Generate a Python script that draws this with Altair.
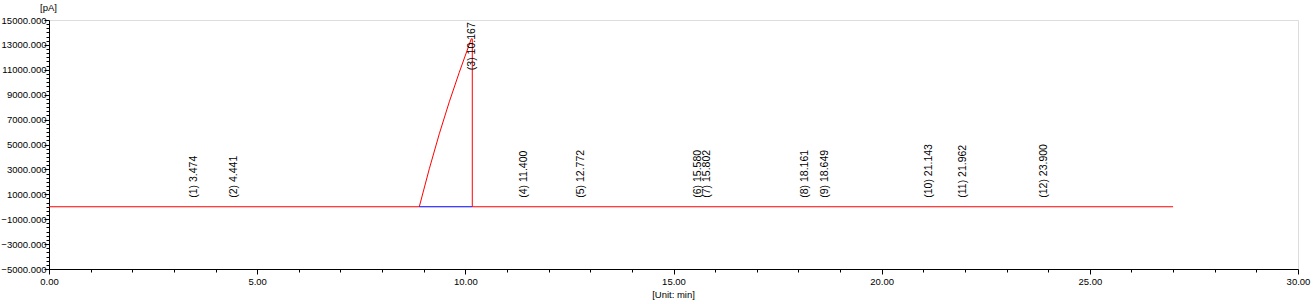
import altair as alt
import pandas as pd

# ---- chromatogram trace ----
trace_t = [0.0, 8.894, 9.135, 9.375, 9.615, 9.855, 10.143, 10.167, 10.167, 27.0]
trace_v = [0, 0, 3050, 5860, 8430, 10800, 13490, 13490, 0, 0]

# ---- integration baseline of the big peak ----
base_start = [8.894]
base_end = [10.167]

# ---- peak annotations ----
peak_no = [1, 2, 3, 4, 5, 6, 7, 8, 9, 10, 11, 12]
peak_rt = [3.474, 4.441, 10.167, 11.400, 12.772, 15.580, 15.802,
           18.161, 18.649, 21.143, 21.962, 23.900]
label_level = [0, 0, 10250, 0, 0, 0, 0, 0, 0, 0, 0, 0]

# ---- axis ticks ----
x_ticks = list(range(0, 31))
y_ticks = [-5000 + i * 2000 / 6 for i in range(61)]

trace = pd.DataFrame({"t": trace_t, "v": trace_v, "o": list(range(len(trace_t)))})
base = pd.DataFrame({"t": base_start, "t2": base_end, "v": [0]})
peaks = pd.DataFrame({
    "t": peak_rt,
    "v": label_level,
    "label": [f"({n}) {rt:.3f}" for n, rt in zip(peak_no, peak_rt)],
})

FONT = "Liberation Sans"
ymajor = "abs((datum.value + 5000) / 2000 - round((datum.value + 5000) / 2000)) < 0.001"
xmajor = "abs(datum.value / 5 - round(datum.value / 5)) < 0.001"

xscale = alt.Scale(domain=[0, 30], nice=False, zero=False)
yscale = alt.Scale(domain=[-5000, 15000], nice=False, zero=False)

xaxis = alt.Axis(
    values=x_ticks, tickCount=500,
    labelExpr=f"({xmajor}) ? format(datum.value, '.2f') : ''",
    tickSize={"condition": {"test": xmajor, "value": 5}, "value": 3},
    grid=False, domainColor="black", tickColor="black",
    labelFont=FONT, labelFontSize=9.5, labelColor="black", labelPadding=2,
    labelFlush=False, labelOverlap=False,
    title="[Unit: min]", titleFont=FONT, titleFontSize=9.5,
    titleFontWeight="normal", titleColor="black",
    titleX=624, titleY=25, titleAlign="center", titleBaseline="middle",
)
yaxis = alt.Axis(
    values=y_ticks, tickCount=500,
    labelExpr=f"({ymajor}) ? format(datum.value, '.3f') : ''",
    tickSize={"condition": {"test": ymajor, "value": 5}, "value": 3},
    grid=False, domainColor="black", tickColor="black",
    labelFont=FONT, labelFontSize=9.5, labelColor="black", labelPadding=-2,
    labelOverlap=False, labelFlush=False,
    title="[pA]", titleFont=FONT, titleFontSize=9.5,
    titleFontWeight="normal", titleColor="black", titleAngle=0,
    titleX=-1, titleY=-13, titleAlign="center", titleBaseline="middle",
)

line = alt.Chart(trace).mark_line(color="#ff0000", strokeWidth=1).encode(
    x=alt.X("t:Q", scale=xscale, axis=xaxis),
    y=alt.Y("v:Q", scale=yscale, axis=yaxis),
    order="o:Q",
)

baseline = alt.Chart(base).mark_rule(color="#0000ff", strokeWidth=1).encode(
    x="t:Q", x2="t2:Q", y="v:Q",
)

labels = alt.Chart(peaks).mark_text(
    angle=270, align="left", baseline="middle", dx=9,
    font=FONT, fontSize=10.5, color="black",
).encode(x="t:Q", y="v:Q", text="label:N")

chart = alt.layer(line, baseline, labels).properties(
    width=1249, height=249,
    autosize=alt.AutoSizeParams(type="none"),
    padding={"left": 49, "top": 20, "right": 18, "bottom": 35},
).configure_view(stroke=None).configure(background="white")

chart.save("out.html", embed_options={"renderer": "svg", "actions": False})
